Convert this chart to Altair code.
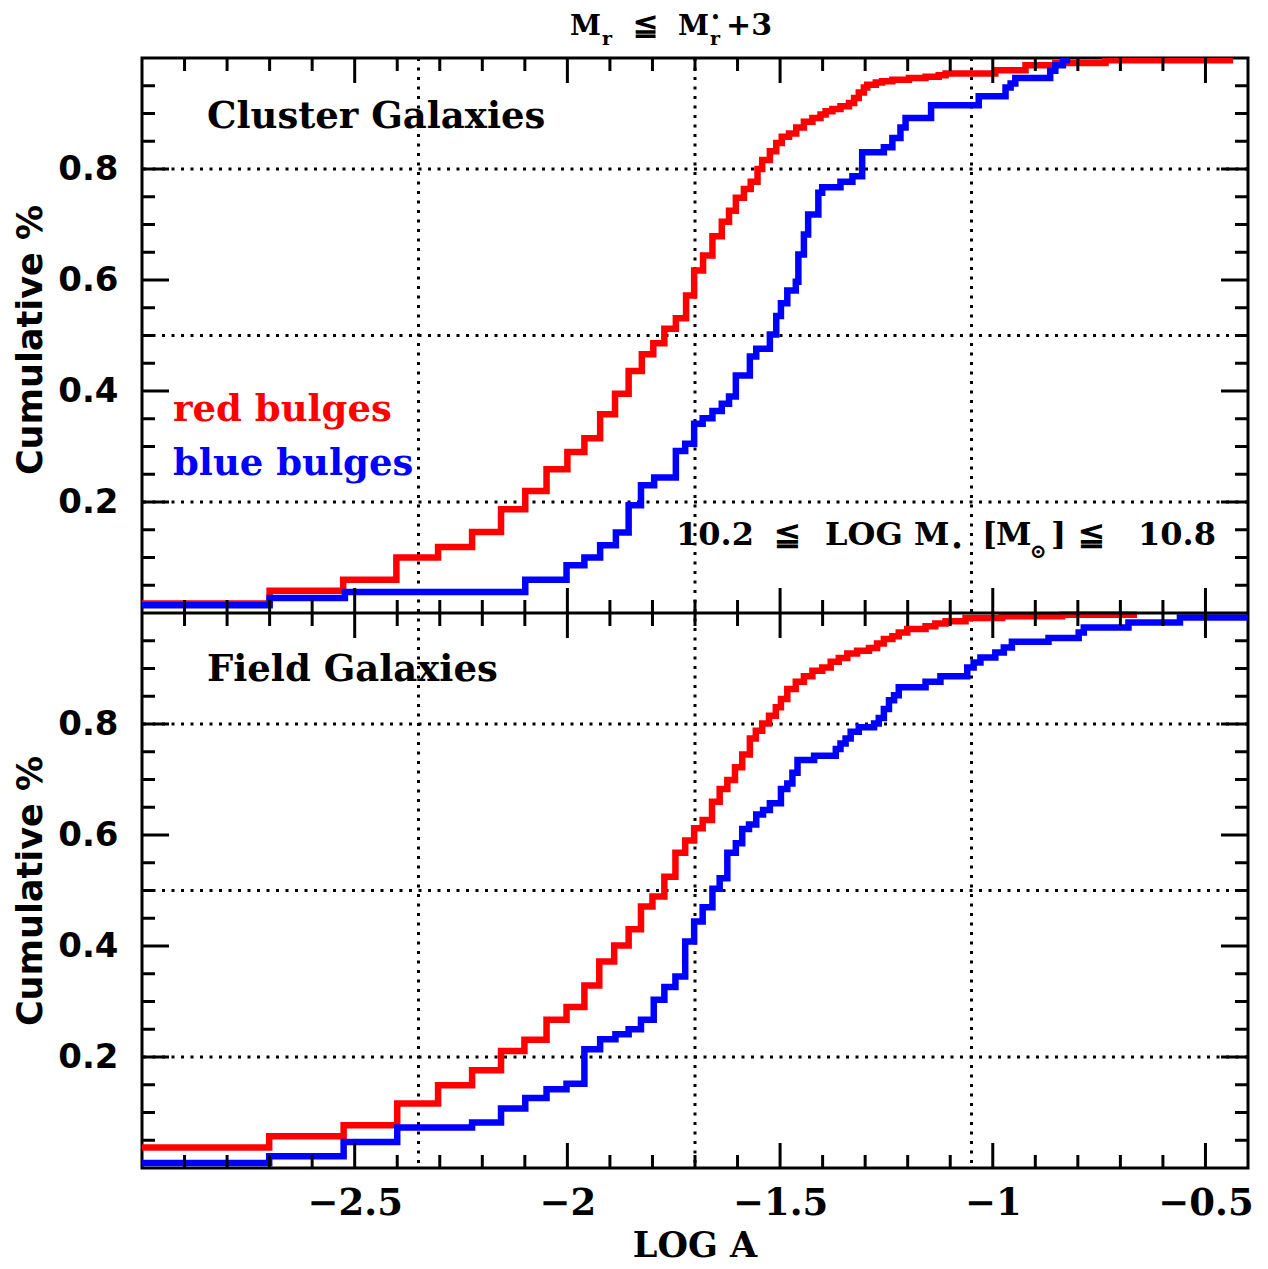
import altair as alt
import pandas as pd

# ---------------- data ----------------
cluster_red_x = [-3.0, -2.700, -2.527, -2.402, -2.304, -2.224, -2.156, -2.099, -2.049, -2.000,
                 -1.960, -1.923, -1.888, -1.856, -1.825, -1.798, -1.772, -1.745, -1.721, -1.702,
                 -1.681, -1.659, -1.637, -1.620, -1.604, -1.585, -1.569, -1.553, -1.542, -1.524,
                 -1.509, -1.496, -1.479, -1.462, -1.444, -1.424, -1.405, -1.393, -1.377, -1.358,
                 -1.338, -1.326, -1.315, -1.303, -1.295, -1.275, -1.260, -1.236, -1.197, -1.158,
                 -1.127, -1.111, -0.994, -0.923, -0.853, -0.735, -0.435]
cluster_red_y = [0.017, 0.040, 0.060, 0.100, 0.119, 0.146, 0.187, 0.220, 0.259, 0.290,
                 0.315, 0.358, 0.395, 0.436, 0.466, 0.486, 0.512, 0.531, 0.572, 0.617,
                 0.644, 0.679, 0.705, 0.725, 0.748, 0.764, 0.777, 0.800, 0.816, 0.832,
                 0.847, 0.858, 0.864, 0.875, 0.885, 0.892, 0.898, 0.904, 0.908, 0.913,
                 0.919, 0.928, 0.938, 0.947, 0.952, 0.956, 0.958, 0.961, 0.964, 0.966,
                 0.969, 0.972, 0.978, 0.987, 0.991, 0.996, 0.996]

cluster_blue_x = [-3.0, -2.700, -2.523, -2.099, -2.002, -1.960, -1.923, -1.886, -1.856, -1.827,
                  -1.796, -1.745, -1.723, -1.702, -1.682, -1.659, -1.637, -1.620, -1.604, -1.571,
                  -1.556, -1.524, -1.509, -1.498, -1.483, -1.463, -1.457, -1.444, -1.434, -1.410,
                  -1.401, -1.358, -1.330, -1.307, -1.256, -1.236, -1.217, -1.205, -1.145, -1.033,
                  -0.970, -0.958, -0.947, -0.865, -0.853, -0.835, -0.818]
cluster_blue_y = [0.014, 0.027, 0.038, 0.060, 0.086, 0.100, 0.122, 0.145, 0.194, 0.230,
                  0.244, 0.292, 0.305, 0.341, 0.351, 0.364, 0.377, 0.390, 0.428, 0.462,
                  0.476, 0.502, 0.535, 0.558, 0.581, 0.597, 0.646, 0.682, 0.718, 0.757,
                  0.767, 0.777, 0.787, 0.830, 0.839, 0.856, 0.875, 0.892, 0.915, 0.931,
                  0.947, 0.954, 0.964, 0.977, 0.987, 0.996, 0.996]

field_red_x = [-3.0, -2.701, -2.526, -2.400, -2.304, -2.224, -2.156, -2.101, -2.049, -2.002,
               -1.960, -1.925, -1.890, -1.856, -1.827, -1.800, -1.772, -1.746, -1.723, -1.702,
               -1.682, -1.660, -1.642, -1.624, -1.606, -1.589, -1.571, -1.557, -1.542, -1.526,
               -1.510, -1.498, -1.483, -1.463, -1.444, -1.424, -1.401, -1.381, -1.362, -1.342,
               -1.319, -1.291, -1.272, -1.256, -1.236, -1.221, -1.201, -1.158, -1.135, -1.111,
               -1.064, -0.978, -0.837, -0.661]
field_red_y = [0.037, 0.057, 0.077, 0.116, 0.149, 0.176, 0.211, 0.231, 0.267, 0.290,
               0.329, 0.372, 0.401, 0.430, 0.471, 0.489, 0.525, 0.568, 0.590, 0.612,
               0.627, 0.660, 0.683, 0.699, 0.722, 0.745, 0.774, 0.788, 0.801, 0.815,
               0.830, 0.845, 0.863, 0.876, 0.886, 0.896, 0.902, 0.912, 0.919, 0.927,
               0.932, 0.937, 0.945, 0.953, 0.958, 0.965, 0.971, 0.976, 0.981, 0.985,
               0.991, 0.994, 0.997, 0.997]

field_blue_x = [-3.0, -2.701, -2.526, -2.400, -2.224, -2.156, -2.099, -2.049, -2.002, -1.960,
                -1.923, -1.887, -1.856, -1.827, -1.797, -1.772, -1.746, -1.723, -1.702, -1.682,
                -1.659, -1.642, -1.624, -1.604, -1.589, -1.573, -1.556, -1.540, -1.524, -1.498,
                -1.483, -1.471, -1.459, -1.420, -1.369, -1.358, -1.346, -1.334, -1.315, -1.279,
                -1.268, -1.256, -1.244, -1.232, -1.221, -1.158, -1.123, -1.060, -1.045, -1.029,
                -0.994, -0.974, -0.955, -0.869, -0.798, -0.786, -0.681, -0.560, -0.400]
field_blue_y = [0.009, 0.021, 0.047, 0.073, 0.082, 0.107, 0.126, 0.142, 0.152, 0.214,
                0.232, 0.241, 0.250, 0.267, 0.303, 0.326, 0.345, 0.408, 0.444, 0.470,
                0.503, 0.522, 0.568, 0.585, 0.611, 0.619, 0.637, 0.645, 0.657, 0.683,
                0.693, 0.712, 0.735, 0.743, 0.755, 0.765, 0.774, 0.786, 0.794, 0.801,
                0.811, 0.827, 0.843, 0.852, 0.866, 0.876, 0.886, 0.902, 0.911, 0.920,
                0.929, 0.938, 0.948, 0.955, 0.965, 0.974, 0.983, 0.992, 0.992]

x_tick_labels = [-2.5, -2.0, -1.5, -1.0, -0.5]
x_major = [-2.5, -2.0, -1.5, -1.0, -0.5]
x_minor = [-2.9, -2.8, -2.7, -2.6, -2.4, -2.3, -2.2, -2.1, -1.9, -1.8, -1.7, -1.6,
           -1.4, -1.3, -1.2, -1.1, -0.9, -0.8, -0.7, -0.6]
y_tick_labels = [0.2, 0.4, 0.6, 0.8]
y_major = [0.2, 0.4, 0.6, 0.8]
y_minor = [0.05, 0.1, 0.15, 0.25, 0.3, 0.35, 0.45, 0.5, 0.55, 0.65, 0.7, 0.75, 0.85, 0.9, 0.95]
dotted_x = [-2.35, -1.70, -1.05]
dotted_y = [0.2, 0.5, 0.8]

# ---------------- layout / style ----------------
W, H = 1106, 1110
PH = H / 2
RED, BLUE = "#ff0000", "#0000ff"
SERIF, SANS = "DejaVu Serif", "DejaVu Sans"

xscale = alt.Scale(domain=[-3.0, -0.4], nice=False, zero=False)
yscale = alt.Scale(domain=[0, 2], nice=False, zero=False)

xaxis = alt.Axis(values=x_tick_labels, labelExpr="'\u2212' + format(abs(datum.value), '')",
                 title=None, domain=False, ticks=False, tickSize=0, grid=False,
                 labelFont=SERIF, labelFontWeight="bold", labelFontSize=37, labelColor="black",
                 labelPadding=17, labelFlush=False, labelOverlap=False)
both_panels = [v for v in y_tick_labels] + [v + 1 for v in y_tick_labels]
yaxis = alt.Axis(values=both_panels,
                 labelExpr="format(datum.value > 1 ? datum.value - 1 : datum.value, '.1f')",
                 title=None, domain=False, ticks=False, tickSize=0, grid=False,
                 labelFont=SANS, labelFontWeight="bold", labelFontSize=34, labelColor="black",
                 labelPadding=24, labelFlush=False, labelOverlap=False)

X = lambda f: alt.X(f, type="quantitative", scale=xscale, axis=xaxis)
Y = lambda f: alt.Y(f, type="quantitative", scale=yscale, axis=yaxis)

rows = []
for panel, series, xs, ys in [("cluster", "red", cluster_red_x, cluster_red_y),
                              ("cluster", "blue", cluster_blue_x, cluster_blue_y),
                              ("field", "red", field_red_x, field_red_y),
                              ("field", "blue", field_blue_x, field_blue_y)]:
    for a, b in zip(xs, ys):
        rows.append({"x": a, "y": b, "series": series, "panel": panel})
curves = pd.DataFrame(rows)


def curve(series, color):
    return (alt.Chart(curves)
            .transform_filter(alt.datum.series == series)
            .transform_calculate(yy="datum.panel == 'cluster' ? datum.y + 1 : datum.y")
            .mark_line(interpolate="step-after", strokeWidth=6.5, color=color, clip=True)
            .encode(x=X("x"), y=Y("yy"), detail="panel:N"))


dots = dict(strokeDash=[3, 6.5], strokeWidth=3, color="black")
vlines = alt.Chart(pd.DataFrame({"x": dotted_x})).mark_rule(**dots).encode(x=X("x"))
hlines = alt.Chart(pd.DataFrame({"y": dotted_y + [v + 1 for v in dotted_y]})).mark_rule(**dots).encode(y=Y("y"))
midline = alt.Chart(pd.DataFrame({"y": [1.0]})).mark_rule(strokeWidth=3, color="black").encode(y=Y("y"))


def xticks(values, y0, y1):
    return alt.Chart(pd.DataFrame({"x": values})).mark_rule(strokeWidth=3, color="black").encode(
        x=X("x"), y=alt.value(y0), y2=alt.value(y1))


def yticks(values, x0, x1):
    vals = values + [v + 1 for v in values]
    return alt.Chart(pd.DataFrame({"y": vals})).mark_rule(strokeWidth=3, color="black").encode(
        y=Y("y"), x=alt.value(x0), x2=alt.value(x1))


LM, Lm = 25, 13
ticks = [
    xticks(x_major, 0, LM), xticks(x_minor, 0, Lm),
    xticks(x_major, PH - LM, PH + LM), xticks(x_minor, PH - Lm, PH + Lm),
    xticks(x_major, H - LM, H), xticks(x_minor, H - Lm, H),
    yticks(y_major, 0, 27), yticks(y_minor, 0, Lm),
    yticks(y_major, W - 27, W), yticks(y_minor, W - Lm, W),
]


def txt(s, x, y, size, color="black", font=SERIF, weight="bold", align="left",
        baseline="alphabetic", angle=0):
    return alt.Chart(pd.DataFrame({"t": [s]})).mark_text(
        text=s, font=font, fontSize=size, fontWeight=weight, color=color, align=align,
        baseline=baseline, angle=angle).encode(x=alt.value(x), y=alt.value(y))


texts = [
    # title  M_r <= M*_r + 3
    txt("M", 428, -23, 28), txt("r", 460, -13, 19), txt("\u2266", 503, -23, 30, align="center"),
    txt("M", 536, -23, 28), txt("\u2022", 569, -36, 14), txt("r", 568, -13, 19),
    txt("+3", 584, -23, 30),
    # panel labels
    txt("Cluster Galaxies", 65, 70, 37),
    txt("Field Galaxies", 65, 623, 37),
    txt("red bulges", 31, 363, 37, color=RED),
    txt("blue bulges", 31, 417, 37, color=BLUE),
    # mass range
    txt("10.2", 534, 487, 32), txt("\u2266", 645, 487, 32, align="center"),
    txt("LOG", 683, 487, 32), txt("M", 772, 487, 32), txt("\u2022", 815, 494, 18, align="center"),
    txt("[", 840, 487, 32), txt("M", 854, 487, 32), txt("\u2299", 896, 500, 20, align="center"),
    txt("]", 909, 487, 32), txt("\u2266", 949, 487, 32, align="center"),
    txt("10.8", 1074, 487, 32, align="right"),
    # axis titles
    txt("Cumulative %", -111, 282, 35, font=SANS, align="center", baseline="middle", angle=270),
    txt("Cumulative %", -111, 833, 35, font=SANS, align="center", baseline="middle", angle=270),
    txt("LOG A", W / 2, 1199, 35, align="center"),
]

chart = alt.layer(
    vlines, hlines, curve("red", RED), curve("blue", BLUE), midline, *ticks, *texts
).properties(
    width=W, height=H,
    autosize=alt.AutoSizeParams(type="none"),
    padding={"left": 134, "top": 50, "right": 10, "bottom": 100},
    background="white",
).configure_view(stroke="black", strokeWidth=3)

chart.save("out.html", embed_options={"renderer": "svg", "actions": False})
